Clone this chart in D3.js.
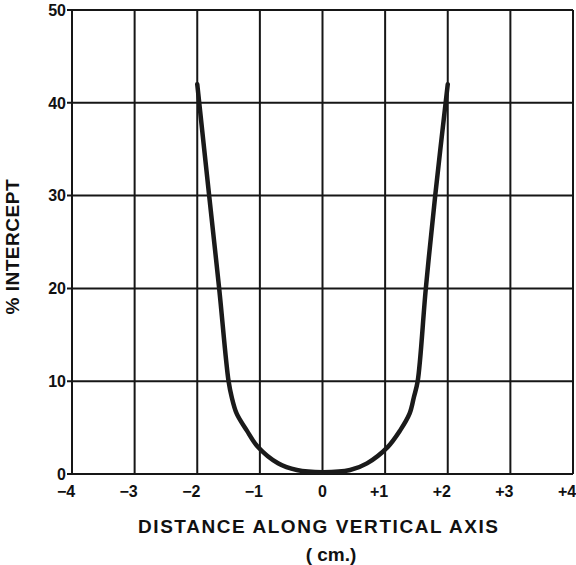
<!DOCTYPE html>
<meta charset="utf-8">
<script src="https://d3js.org/d3.v7.min.js"></script>
<style>
  body { margin: 0; background: #fff; }
  text { font-family: 'Liberation Sans', Arial, sans-serif; font-weight: bold; fill: #111; }
</style>
<body>
<div id="chart"></div>
<script>

// values
var distance  = [-2, -1.81, -1.65, -1.5, -1.45, -1.37, -1.21, -1.03, -0.71, -0.41, 0,
                 0.44, 0.71, 1.04, 1.24, 1.39, 1.46, 1.52, 1.65, 1.8, 2.0];
var intercept = [42, 30, 20, 10, 8.3, 6.5, 4.7, 2.9, 1.15, 0.43, 0.2,
                 0.43, 1.15, 2.9, 4.7, 6.5, 8.3, 10, 20, 30, 42];
var xTicks = [-4, -3, -2, -1, 0, 1, 2, 3, 4];
var xTickLabels = ["\u22124", "\u22123", "\u22122", "\u22121", "0", "+1", "+2", "+3", "+4"];
var yTicks = [0, 10, 20, 30, 40, 50];

var data = distance.map(function(d, i) { return {x: d, y: intercept[i]}; });

var margin = {top: 10, right: 3, bottom: 91, left: 72},
    width = 576 - margin.left - margin.right,
    height = 565 - margin.top - margin.bottom;

var svg = d3.select("#chart")
  .append("svg")
    .attr("width", 576)
    .attr("height", 565)
  .append("g")
    .attr("transform", "translate(" + margin.left + "," + margin.top + ")");

var x = d3.scaleLinear().domain([-4, 4]).range([0, width]);
var y = d3.scaleLinear().domain([0, 50]).range([height, 0]);

// grid
svg.selectAll(".vgrid")
  .data(xTicks)
  .enter().append("line")
    .attr("x1", function(d) { return x(d); })
    .attr("x2", function(d) { return x(d); })
    .attr("y1", 0)
    .attr("y2", height)
    .attr("stroke", "#161616")
    .attr("stroke-width", 2);

svg.selectAll(".hgrid")
  .data(yTicks)
  .enter().append("line")
    .attr("x1", -5)
    .attr("x2", width)
    .attr("y1", function(d) { return y(d); })
    .attr("y2", function(d) { return y(d); })
    .attr("stroke", "#161616")
    .attr("stroke-width", 2);

// y tick labels
svg.selectAll(".ylab")
  .data(yTicks)
  .enter().append("text")
    .attr("x", -6)
    .attr("y", function(d) { return y(d); })
    .attr("dy", "0.36em")
    .attr("text-anchor", "end")
    .style("font-size", "16px")
    .text(function(d) { return d; });

// x tick labels
svg.selectAll(".xlab")
  .data(xTicks)
  .enter().append("text")
    .attr("x", function(d) { return x(d); })
    .attr("dx", function(d) { return d === 0 ? 0 : -6; })
    .attr("y", height + 23)
    .attr("text-anchor", "middle")
    .style("font-size", "16px")
    .text(function(d, i) { return xTickLabels[i]; });

// the curve
var line = d3.line()
  .x(function(d) { return x(d.x); })
  .y(function(d) { return y(d.y); })
  .curve(d3.curveCatmullRom.alpha(0.5));

svg.append("path")
  .datum(data)
  .attr("fill", "none")
  .attr("stroke", "#1a1a1a")
  .attr("stroke-width", 4.5)
  .attr("stroke-linecap", "round")
  .attr("d", line);

// axis titles
svg.append("text")
  .attr("x", 138 - margin.left)
  .attr("y", 533 - margin.top)
  .attr("textLength", 360)
  .attr("lengthAdjust", "spacing")
  .style("font-size", "19px")
  .text("DISTANCE ALONG VERTICAL AXIS");

svg.append("text")
  .attr("x", 331 - margin.left)
  .attr("y", 561 - margin.top)
  .attr("text-anchor", "middle")
  .style("font-size", "19px")
  .text("( cm.)");

svg.append("text")
  .attr("transform", "translate(" + (19 - margin.left) + "," + (247 - margin.top) + ")rotate(-90)")
  .attr("text-anchor", "middle")
  .attr("textLength", 135)
  .attr("lengthAdjust", "spacing")
  .style("font-size", "19px")
  .text("% INTERCEPT");

</script>
</body>
